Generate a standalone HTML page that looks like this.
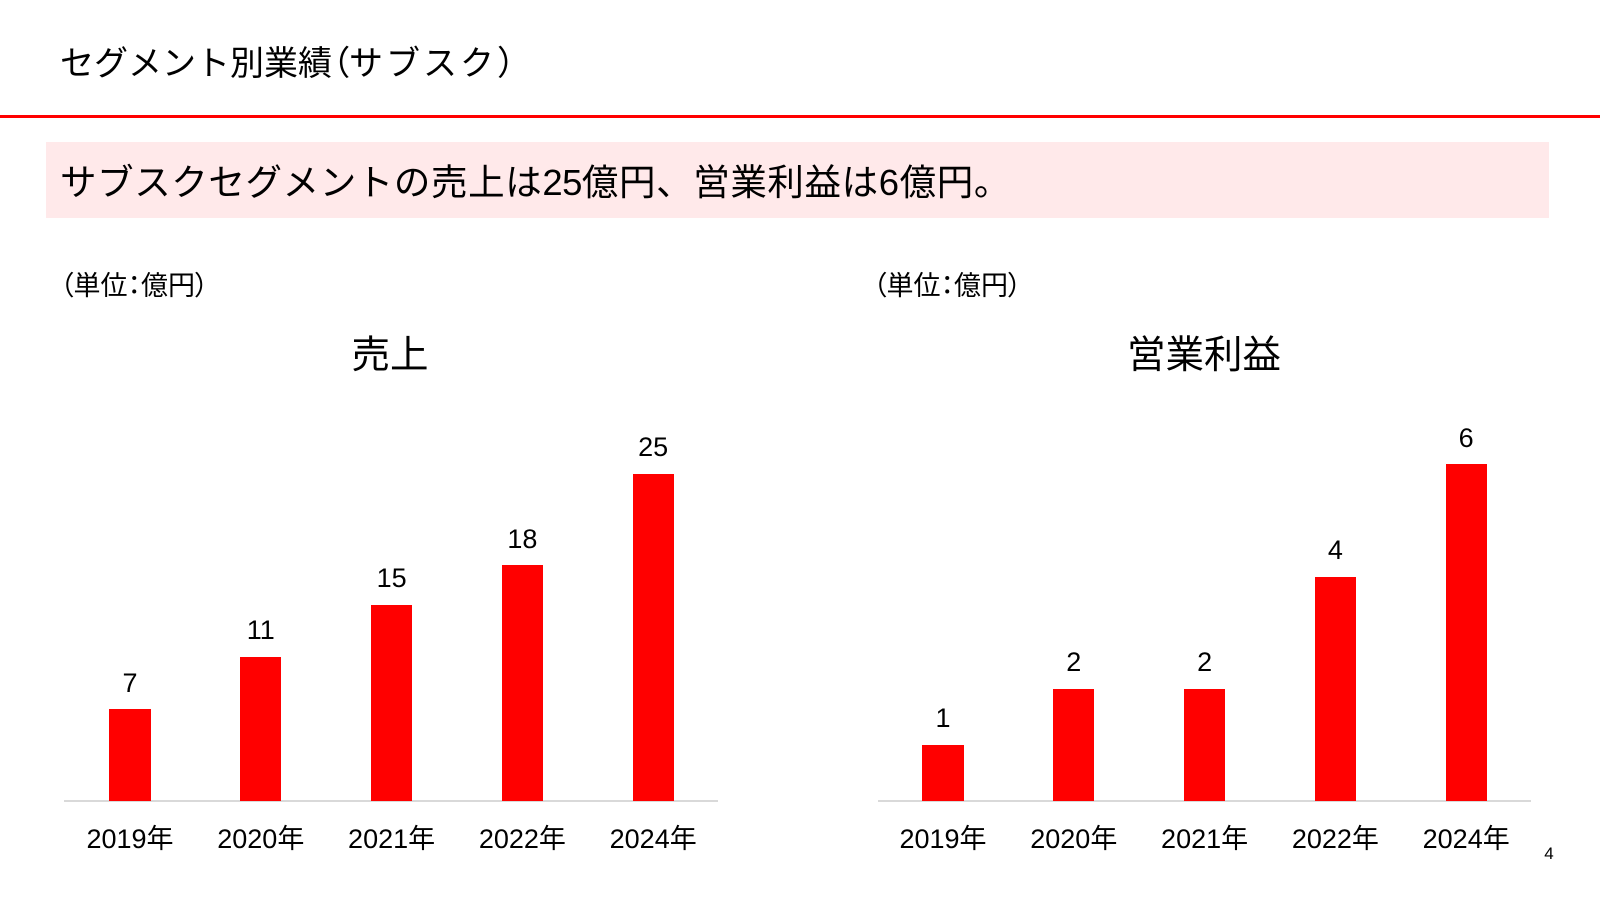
<!DOCTYPE html>
<html lang="ja">
<head>
<meta charset="utf-8">
<style>
  html, body { margin:0; padding:0; }
  body { width:1600px; height:900px; position:relative; overflow:hidden; background:#ffffff;
         font-family:"Liberation Sans","Noto Sans CJK JP",sans-serif; color:#000; }
  .abs { position:absolute; white-space:nowrap; }
  .p { font-feature-settings:"palt"; }
  .bar { position:absolute; background:#ff0000; }
  .axis { position:absolute; height:1.5px; background:#d9d9d9; top:800px; }
  .lbl { position:absolute; width:200px; text-align:center; font-size:27px; line-height:27px; white-space:nowrap; }
  .ttl { position:absolute; width:400px; text-align:center; font-size:38.5px; line-height:38.5px; white-space:nowrap; }
</style>
</head>
<body>
  <!-- header -->
  <div class="abs" style="left:60px; top:47px; font-size:34px; line-height:34px;">セグメント別業績<span class="p">（</span><span style="letter-spacing:3px;">サブスク</span>）</div>
  <div class="abs" style="left:0; top:115px; width:1600px; height:3px; background:#ff0000;"></div>

  <!-- pink summary box -->
  <div class="abs" style="left:46px; top:142px; width:1503px; height:76px; background:#ffe9ea;"></div>
  <div class="abs" style="left:60px; top:164.5px; font-size:36.5px; line-height:36.5px; letter-spacing:0.6px;">サブスクセグメントの売上は<span style="letter-spacing:-0.5px;">25</span>億円、営業利益は6億円。</div>

  <!-- unit labels -->
  <div class="abs" style="left:60px; top:272.5px; font-size:27px; line-height:27px;"><span class="p">（</span>単位<span class="p">：</span>億円<span class="p">）</span></div>
  <div class="abs" style="left:873px; top:272.5px; font-size:27px; line-height:27px;"><span class="p">（</span>単位<span class="p">：</span>億円<span class="p">）</span></div>

  <!-- chart titles -->
  <div class="ttl" style="left:190px; top:337px;">売上</div>
  <div class="ttl" style="left:1004px; top:337px;">営業利益</div>

  <!-- left chart -->
  <div class="axis" style="left:64px; width:654px;"></div>
  <div class="bar" style="left:109.3px; width:41.4px; top:709.3px; height:91.7px;"></div>
  <div class="bar" style="left:240.1px; width:41.4px; top:656.9px; height:144.1px;"></div>
  <div class="bar" style="left:370.9px; width:41.4px; top:604.5px; height:196.5px;"></div>
  <div class="bar" style="left:501.7px; width:41.4px; top:565.2px; height:235.8px;"></div>
  <div class="bar" style="left:632.5px; width:41.4px; top:473.5px; height:327.5px;"></div>

  <div class="lbl" style="left:30px;  top:669.6px;">7</div>
  <div class="lbl" style="left:160.8px; top:617.2px;">11</div>
  <div class="lbl" style="left:291.6px; top:564.8px;">15</div>
  <div class="lbl" style="left:422.4px; top:525.5px;">18</div>
  <div class="lbl" style="left:553.2px; top:433.8px;">25</div>

  <div class="lbl" style="left:30px;  top:826px;">2019年</div>
  <div class="lbl" style="left:160.8px; top:826px;">2020年</div>
  <div class="lbl" style="left:291.6px; top:826px;">2021年</div>
  <div class="lbl" style="left:422.4px; top:826px;">2022年</div>
  <div class="lbl" style="left:553.2px; top:826px;">2024年</div>

  <!-- right chart -->
  <div class="axis" style="left:877.6px; width:653px;"></div>
  <div class="bar" style="left:922.3px; width:41.4px; top:744.9px; height:56.1px;"></div>
  <div class="bar" style="left:1053.1px; width:41.4px; top:688.8px; height:112.2px;"></div>
  <div class="bar" style="left:1183.9px; width:41.4px; top:688.8px; height:112.2px;"></div>
  <div class="bar" style="left:1314.7px; width:41.4px; top:576.5px; height:224.5px;"></div>
  <div class="bar" style="left:1445.5px; width:41.4px; top:464.3px; height:336.7px;"></div>

  <div class="lbl" style="left:843px;  top:705.2px;">1</div>
  <div class="lbl" style="left:973.8px; top:649.1px;">2</div>
  <div class="lbl" style="left:1104.6px; top:649.1px;">2</div>
  <div class="lbl" style="left:1235.4px; top:536.8px;">4</div>
  <div class="lbl" style="left:1366.2px; top:424.6px;">6</div>

  <div class="lbl" style="left:843px;  top:826px;">2019年</div>
  <div class="lbl" style="left:973.8px; top:826px;">2020年</div>
  <div class="lbl" style="left:1104.6px; top:826px;">2021年</div>
  <div class="lbl" style="left:1235.4px; top:826px;">2022年</div>
  <div class="lbl" style="left:1366.2px; top:826px;">2024年</div>

  <!-- page number -->
  <div class="abs" style="left:1529px; width:40px; text-align:center; top:844.5px; font-size:17px; line-height:17px;">4</div>
</body>
</html>
